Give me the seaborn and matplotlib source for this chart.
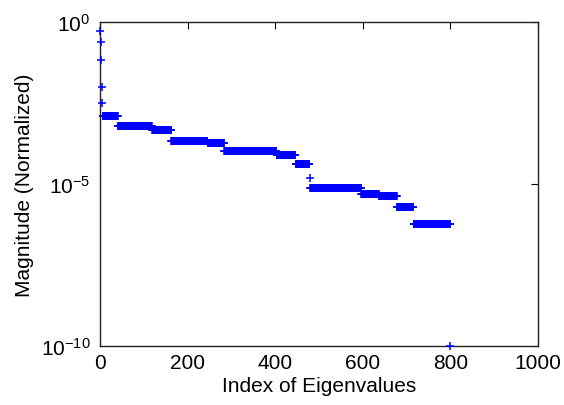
import numpy as np
import pandas as pd
import matplotlib
matplotlib.use("Agg")
import matplotlib.pyplot as plt
import seaborn as sns

# Leading eigenvalues (indices 1-5), normalized magnitude
head_values = [0.52, 0.25, 0.067, 0.0096, 0.0031]

# Plateau levels of the spectrum and how many eigenvalues sit on each
plateau_levels = [1.28e-3, 6.3e-4, 4.7e-4, 2.2e-4, 1.8e-4, 1.05e-4, 8.0e-5,
                  4.2e-5, 1.5e-5, 7.3e-6, 4.9e-6, 4.3e-6, 1.95e-6, 5.9e-7]
plateau_counts = [35, 78, 44, 83, 38, 119, 44,
                  32, 1, 117, 40, 41, 38, 84]

# Smallest eigenvalue
tail_values = [1e-10]

magnitude = np.concatenate([head_values,
                            np.repeat(plateau_levels, plateau_counts),
                            tail_values])
index = np.arange(1, len(magnitude) + 1)
df = pd.DataFrame({"index": index, "magnitude": magnitude})

sns.set_style("white")
plt.rcParams["font.family"] = ["Liberation Sans", "DejaVu Sans"]
plt.rcParams["mathtext.default"] = "regular"
plt.rcParams["text.color"] = "black"
plt.rcParams["axes.labelcolor"] = "black"

fig = plt.figure(figsize=(5.64, 4.06), dpi=100)
ax = fig.add_axes([100 / 564, 1 - 347 / 406, 438 / 564, 324 / 406])

sns.scatterplot(data=df, x="index", y="magnitude", marker="+", color=(0, 0, 1),
                s=36, linewidth=1.1, ax=ax, clip_on=False, zorder=3)

ax.set_yscale("log")
ax.set_xlim(0, 1000)
ax.set_ylim(1e-10, 1e0)
ax.set_xticks([0, 200, 400, 600, 800, 1000])
ax.set_yticks([1e-10, 1e-5, 1e0])
ax.yaxis.set_minor_locator(matplotlib.ticker.NullLocator())
ax.set_yticklabels([r"$10^{-10}$", r"$10^{-5}$", r"$10^{0}$"])

ax.tick_params(axis="both", which="major", direction="in", length=5, width=0.8,
               top=True, right=True, labelsize=15, colors="black",
               labelcolor="black")
ax.tick_params(axis="x", pad=5)
ax.tick_params(axis="y", pad=7)
for sp in ax.spines.values():
    sp.set_visible(True)
    sp.set_color("#222222")
    sp.set_linewidth(1.0)

ax.set_xlabel("Index of Eigenvalues", fontsize=15, labelpad=3, color="black")
ax.set_ylabel("Magnitude (Normalized)", fontsize=15, labelpad=5, color="black")

fig.savefig("out.png", dpi=100)
